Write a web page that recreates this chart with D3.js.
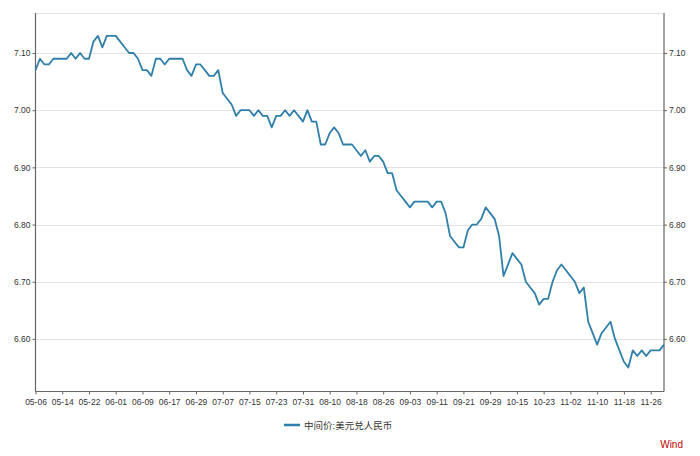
<!DOCTYPE html>
<html>
<head>
<meta charset="utf-8">
<script src="https://cdn.jsdelivr.net/npm/d3@7"></script>
<style>
  html, body { margin: 0; padding: 0; background: #fff; }
  svg { display: block; }
  text { font-family: "Liberation Sans", Arial, "Noto Sans CJK SC", sans-serif; }
</style>
</head>
<body>
<svg id="chart" width="700" height="456"></svg>
<script>
const dates = [
  "05-06","05-07","05-08","05-11","05-12","05-13","05-14","05-15","05-18","05-19","05-20","05-21","05-22","05-25","05-26","05-27","05-28","05-29",
  "06-01","06-02","06-03","06-04","06-05","06-08","06-09","06-10","06-11","06-12","06-15","06-16","06-17","06-18","06-19","06-22","06-23","06-24","06-29","06-30",
  "07-01","07-02","07-03","07-06","07-07","07-08","07-09","07-10","07-13","07-14","07-15","07-16","07-17","07-20","07-21","07-22","07-23","07-24","07-27","07-28","07-29","07-30","07-31",
  "08-03","08-04","08-05","08-06","08-07","08-10","08-11","08-12","08-13","08-14","08-17","08-18","08-19","08-20","08-21","08-24","08-25","08-26","08-27","08-28","08-31",
  "09-01","09-02","09-03","09-04","09-07","09-08","09-09","09-10","09-11","09-14","09-15","09-16","09-17","09-18","09-21","09-22","09-23","09-24","09-25","09-28","09-29","09-30",
  "10-09","10-12","10-13","10-14","10-15","10-16","10-19","10-20","10-21","10-22","10-23","10-26","10-27","10-28","10-29","10-30",
  "11-02","11-03","11-04","11-05","11-06","11-09","11-10","11-11","11-12","11-13","11-16","11-17","11-18","11-19","11-20","11-23","11-24","11-25","11-26","11-27","11-30",
  "12-01"
];

const usdCny = [
  7.07,7.09,7.08,7.08,7.09,7.09,7.09,7.09,7.10,7.09,7.10,7.09,7.09,7.12,7.13,7.11,7.13,7.13,7.13,7.12,7.11,7.10,7.10,7.09,7.07,
  7.07,7.06,7.09,7.09,7.08,7.09,7.09,7.09,7.09,7.07,7.06,7.08,7.08,7.07,7.06,7.06,7.07,7.03,7.02,7.01,6.99,7.00,7.00,7.00,
  6.99,7.00,6.99,6.99,6.97,6.99,6.99,7.00,6.99,7.00,6.99,6.98,7.00,6.98,6.98,6.94,6.94,6.96,6.97,6.96,6.94,6.94,6.94,6.93,
  6.92,6.93,6.91,6.92,6.92,6.91,6.89,6.89,6.86,6.85,6.84,6.83,6.84,6.84,6.84,6.84,6.83,6.84,6.84,6.82,6.78,6.77,6.76,6.76,
  6.79,6.80,6.80,6.81,6.83,6.82,6.81,6.78,6.71,6.73,6.75,6.74,6.73,6.70,6.69,6.68,6.66,6.67,6.67,6.70,6.72,6.73,6.72,6.71,
  6.70,6.68,6.69,6.63,6.61,6.59,6.61,6.62,6.63,6.60,6.58,6.56,6.55,6.58,6.57,6.58,6.57,6.58,6.58,6.58,6.59
];

const xTickLabels = ["05-06","05-14","05-22","06-01","06-09","06-17","06-29","07-07","07-15","07-23","07-31","08-10",
  "08-18","08-26","09-03","09-11","09-21","09-29","10-15","10-23","11-02","11-10","11-18","11-26"];
const yTicks = [6.60, 6.70, 6.80, 6.90, 7.00, 7.10];
const seriesName = "中间价:美元兑人民币";
const sourceLabel = "Wind";

(function () {
const data = dates.map((d, i) => ({ date: d, value: usdCny[i] }));

const svg = d3.select("#chart");
const mLeft = 35.5, mRight = 664, mTop = 13, mBottom = 391.5;

const x = d3.scalePoint().domain(dates).range([mLeft, mRight]);
const y = d3.scaleLinear().domain([6.508, 7.17]).range([mBottom, mTop]);

// gridlines
const grid = svg.append("g");
grid.selectAll("line.g").data(yTicks).join("line")
  .attr("x1", mLeft).attr("x2", mRight)
  .attr("y1", d => Math.round(y(d)) + 0.5).attr("y2", d => Math.round(y(d)) + 0.5)
  .attr("stroke", "#e3e3e3").attr("stroke-width", 1);
grid.append("line")
  .attr("x1", mLeft).attr("x2", mRight).attr("y1", mTop + 0.5).attr("y2", mTop + 0.5)
  .attr("stroke", "#e3e3e3");

const fmt = d3.format(".2f");

const yl = svg.append("g").attr("transform", `translate(${mLeft},0)`)
  .call(d3.axisLeft(y).tickValues(yTicks).tickFormat(fmt).tickSize(3).tickPadding(2));
const yr = svg.append("g").attr("transform", `translate(${mRight},0)`)
  .call(d3.axisRight(y).tickValues(yTicks).tickFormat(fmt).tickSize(3).tickPadding(2));
const xa = svg.append("g").attr("transform", `translate(0,${mBottom})`)
  .call(d3.axisBottom(x).tickValues(xTickLabels).tickSize(3).tickPadding(4));

[yl, yr, xa].forEach(g => {
  g.select(".domain").remove();
  g.selectAll(".tick line").attr("stroke", "#666");
  g.selectAll(".tick text").attr("fill", "#333").attr("font-size", "8.5px")
    .attr("font-family", '"Liberation Sans", Arial, sans-serif');
});

svg.append("line").attr("x1", mLeft).attr("x2", mLeft).attr("y1", mTop).attr("y2", mBottom)
  .attr("stroke", "#666").attr("stroke-width", 1.2);
svg.append("line").attr("x1", mRight).attr("x2", mRight).attr("y1", mTop).attr("y2", mBottom)
  .attr("stroke", "#666").attr("stroke-width", 1.2);
svg.append("line").attr("x1", mLeft).attr("x2", mRight).attr("y1", mBottom).attr("y2", mBottom)
  .attr("stroke", "#666").attr("stroke-width", 1.2);

const color = "#2f7fab";
const line = d3.line().x(d => x(d.date)).y(d => y(d.value));
svg.append("path").datum(data)
  .attr("d", line).attr("fill", "none")
  .attr("stroke", color).attr("stroke-width", 1.8)
  .attr("stroke-linejoin", "round");

const lg = svg.append("g").attr("transform", "translate(284,425)");
lg.append("line").attr("x1", 0).attr("x2", 16).attr("y1", 0).attr("y2", 0)
  .attr("stroke", color).attr("stroke-width", 2.5);
lg.append("text").attr("x", 20).attr("y", 3.5)
  .attr("font-size", "9.5px").attr("fill", "#333")
  .attr("font-family", '"Noto Sans CJK SC", sans-serif')
  .text(seriesName);

svg.append("text").attr("x", 683).attr("y", 448).attr("text-anchor", "end")
  .attr("font-size", "10px").attr("fill", "#c00000")
  .text(sourceLabel);
})();
</script>
</body>
</html>
